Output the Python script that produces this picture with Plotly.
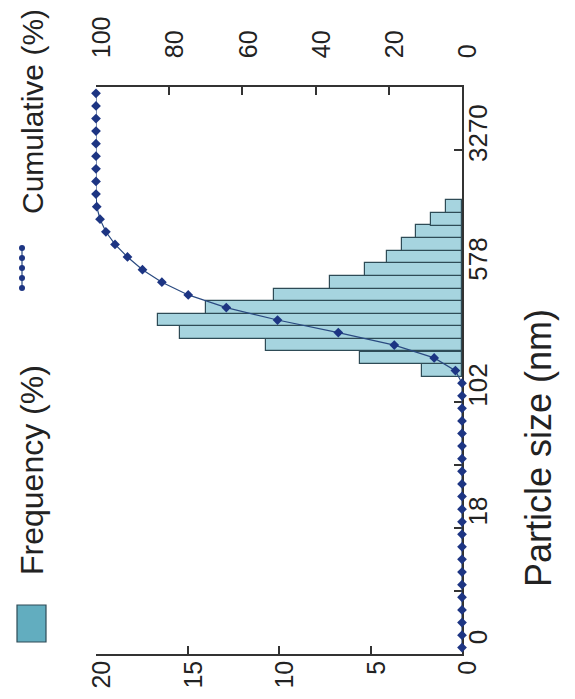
import numpy as np
import plotly.graph_objects as go

# ---- data ----
# bin centres of the particle size distribution (nm), geometric bins
particle_size_nm = [3.47, 4.12, 4.90, 5.83, 6.94, 8.25, 9.81, 11.7, 13.9, 16.5,
                    19.6, 23.3, 27.8, 33.0, 39.3, 46.7, 55.6, 66.1, 78.6, 93.5,
                    111, 132, 157, 187, 223, 265, 315, 374, 445, 530,
                    630, 750, 892, 1061, 1261, 1500, 1784, 2122, 2524, 3002,
                    3566, 4241, 5044, 6000, 7136]
frequency_pct = [0, 0, 0, 0, 0, 0, 0, 0, 0, 0,
                 0, 0, 0, 0, 0, 0, 0, 0, 0, 0,
                 0, 0, 2.2, 5.6, 10.7, 15.4, 16.6, 14.0, 10.3, 7.2,
                 5.3, 4.1, 3.3, 2.5, 1.7, 0.9, 0, 0, 0, 0,
                 0, 0, 0, 0, 0]
cumulative_pct = [0, 0, 0, 0, 0, 0, 0, 0, 0, 0,
                  0, 0, 0, 0, 0, 0, 0, 0, 0, 0,
                  0, 0, 1.8, 7.6, 18.5, 33.8, 50.4, 64.4, 74.8, 82.0,
                  87.3, 91.4, 94.8, 97.3, 98.9, 99.8, 100, 100, 100, 100,
                  100, 100, 100, 100, 100]
# bin edges used as axis ticks (nm) and their labels
size_tick_nm = [3.178, 7.563, 18, 42.84, 102, 242.8, 578, 1375.6, 3270, 7782]
size_tick_text = ["0", "", "18", "", "102", "", "578", "", "3270", ""]
freq_ticks = [0, 5, 10, 15, 20]
cum_ticks = [0, 20, 40, 60, 80, 100]

BIN_RATIO = 1.18936  # width of one geometric bin

y_all = np.log10(particle_size_nm)
bar_x = [f for f in frequency_pct if f > 0]
bar_y = [y for y, f in zip(y_all, frequency_pct) if f > 0]

FONT = "Liberation Sans, Arial, Helvetica, sans-serif"
INK = "#222222"

fig = go.Figure()
fig.add_trace(go.Bar(
    x=bar_x, y=bar_y, orientation="h", width=np.log10(BIN_RATIO),
    marker=dict(color="#a6d4df", line=dict(color="#2e4b56", width=1.2)),
    xaxis="x", yaxis="y", name="Frequency (%)", showlegend=False))
fig.add_trace(go.Scatter(
    x=cumulative_pct, y=y_all, mode="lines+markers", xaxis="x2", yaxis="y",
    line=dict(color="#2a4a80", width=1.2),
    marker=dict(symbol="diamond", size=7.5, color="#1d3583"),
    cliponaxis=False, name="Cumulative (%)", showlegend=False))

L, R, T, B = 88, 121, 79, 53
W, H = 575, 699
pw, ph = W - L - R, H - T - B

def px(xp):
    return (xp - L) / pw

def py(yp):
    return (H - B - yp) / ph

axis_common = dict(showline=True, linecolor="#333333", linewidth=1.5,
                   ticks="inside", ticklen=8, tickcolor="#333333", tickwidth=1.5,
                   showgrid=False, zeroline=False, tickangle=-90, automargin=False)

fig.update_layout(
    width=W, height=H, autosize=False,
    margin=dict(l=L, r=R, t=T, b=B),
    paper_bgcolor="white", plot_bgcolor="white",
    bargap=0,
    xaxis=dict(domain=[0, 1], range=[20, 0], tickvals=freq_ticks,
               anchor="y", side="bottom", ticklabelstandoff=-5,
               ticklabelshift=-6, tickfont=dict(family=FONT, size=25, color=INK),
               **axis_common),
    xaxis2=dict(range=[100, 0], tickvals=cum_ticks, overlaying="x",
                anchor="y", side="top", ticklabelstandoff=22,
                ticklabelshift=-6, tickfont=dict(family=FONT, size=25, color=INK),
                **axis_common),
    yaxis=dict(range=[np.log10(size_tick_nm[0]), np.log10(size_tick_nm[-1])],
               tickvals=np.log10(size_tick_nm), ticktext=size_tick_text,
               side="right", anchor="x", layer="below traces",
               ticklabelstandoff=-8, ticklabelshift=-13,
               tickfont=dict(family=FONT, size=26, color=INK), **axis_common),
)

annotations = [
    dict(text="Particle size (nm)", x=px(530), y=py(440), xref="paper", yref="paper",
         xanchor="center", yanchor="middle",
         textangle=-90, showarrow=False, font=dict(family=FONT, size=36, color=INK)),
    dict(text="Frequency (%)", x=px(24), y=py(462), xref="paper", yref="paper",
         xanchor="center", yanchor="middle",
         textangle=-90, showarrow=False, font=dict(family=FONT, size=32, color=INK)),
    dict(text="Cumulative (%)", x=px(24), y=py(104), xref="paper", yref="paper",
         xanchor="center", yanchor="middle",
         textangle=-90, showarrow=False, font=dict(family=FONT, size=30, color=INK)),
]
fig.update_layout(annotations=annotations)

shapes = [
    dict(type="rect", xref="paper", yref="paper", x0=px(9), x1=px(38),
         y0=py(634), y1=py(597), fillcolor="#62adbf", line=dict(color="#2e4b56", width=1.2)),
    dict(type="line", xref="paper", yref="paper", x0=px(14), x1=px(14),
         y0=py(240), y1=py(280), line=dict(color="#2a4a80", width=1.2)),
]
for yy in [240, 250, 260, 270, 280]:
    shapes.append(dict(type="circle", xref="paper", yref="paper",
                       xsizemode="pixel", ysizemode="pixel",
                       xanchor=px(14), yanchor=py(yy), x0=-3, x1=3, y0=-3, y1=3,
                       fillcolor="#1d3583", line=dict(color="#1d3583", width=0)))
fig.update_layout(shapes=shapes)

fig.write_html("out.html")
